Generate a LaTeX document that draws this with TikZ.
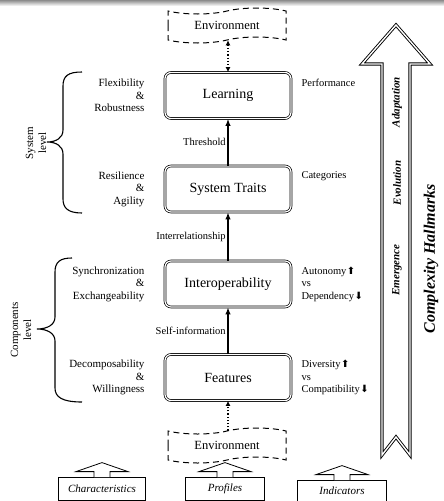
\documentclass[tikz,border=0pt]{standalone}
\usepackage{fontspec}
\setmainfont{Liberation Serif}
\newfontfamily\symfont{DejaVu Sans}
\usetikzlibrary{positioning,shapes.symbols,arrows.meta}

% small filled arrows behind the indicator words
\newcommand{\upar}{\kern0.5pt{\symfont\fontsize{10}{10}\selectfont ⬆}}
\newcommand{\dnar}{\kern0.5pt{\symfont\fontsize{10}{10}\selectfont ⬇}}

\begin{document}
\begin{tikzpicture}[x=1pt, y=-1pt,
  stage/.style={draw, double, double distance=1.2pt, line width=0.7pt,
    rounded corners=6pt, minimum width=126pt, minimum height=46pt,
    font=\fontsize{14}{16}\selectfont},
  env/.style={tape, draw, dashed, dash pattern=on 6pt off 4pt, line width=1pt,
    minimum width=118pt, minimum height=35pt, tape bend height=6pt,
    font=\fontsize{12.5}{14}\selectfont},
  lefttext/.style={align=right, inner sep=0pt, font=\fontsize{11}{12.5}\selectfont},
  righttext/.style={align=left, inner sep=0pt, anchor=north west,
    font=\fontsize{10.5}{12.5}\selectfont},
  flow/.style={-{Latex[length=7pt,width=5.5pt]}, line width=1.6pt},
  envlink/.style={line width=1.2pt, dotted},
  flowlabel/.style={midway, left, inner sep=1.5pt, font=\fontsize{10.5}{12}\selectfont},
  brace/.style={line width=1.1pt},
  level/.style={rotate=90, align=center, font=\fontsize{11}{13}\selectfont},
  inbox/.style={draw, line width=0.8pt, minimum height=23pt,
    font=\itshape\fontsize{11}{13}\selectfont},
  hallmark/.style={draw, double, double distance=1.4pt, line width=0.9pt, line join=miter},
  mark text/.style={rotate=90, font=\bfseries\itshape\fontsize{11}{13}\selectfont}
]
\useasboundingbox (0,0) rectangle (444,501);
\shade[top color=black!45, bottom color=white] (0,0) rectangle (444,6);

% stages
\node[stage] (learn) at (228,95.5) {Learning};
\node[stage] (traits) at (228,189) {System Traits};
\node[stage] (inter) at (228,284) {Interoperability};
\node[stage] (feat) at (228,377.5) {Features};

% environment
\node[env] (envtop) at (227,25.5) {Environment};
\node[env] (envbot) at (227,445.5) {Environment};

% connectors
\draw[flow] (traits) -- (learn) node[flowlabel] {Threshold};
\draw[flow] (inter) -- (traits) node[flowlabel] {Interrelationship};
\draw[flow] (feat) -- (inter) node[flowlabel] {Self-information};
\draw[envlink, {Latex[length=5pt,width=5pt]}-{Latex[length=5pt,width=5pt]}]
  (envtop.south -| learn.north) -- (learn.north);
\draw[envlink, -{Latex[length=5pt,width=5pt]}] (envbot.north -| feat.south) -- (feat.south);

% left side
\node[lefttext, left=20pt of learn] (flex) {Flexibility\\\&\\Robustness};
\node[lefttext, left=20pt of traits] (resil) {Resilience\\\&\\Agility};
\node[lefttext, left=20pt of inter] (sync) {Synchronization\\\&\\Exchangeability};
\node[lefttext, left=20pt of feat] (decomp) {Decomposability\\\&\\Willingness};

% right side
\node[righttext] (perf) at ([xshift=10pt]flex.north -| learn.east) {Performance};
\node[righttext] (cat) at ([xshift=10pt]resil.north -| traits.east) {Categories};
\node[righttext] (auto) at ([xshift=10pt]sync.north -| inter.east) {Autonomy\upar\\vs\\Dependency\dnar};
\node[righttext] (div) at ([xshift=10pt]decomp.north -| feat.east) {Diversity\upar\\vs\\Compatibility\dnar};

% braces
\draw[brace] (82,72) .. controls (68,72) and (63,76) .. (63,86) -- (63,130)
  .. controls (63,138) and (56,142) .. (47,142) .. controls (56,142) and (63,146) .. (63,154)
  -- (63,199) .. controls (63,208) and (68,213) .. (82,213);
\draw[brace] (72,258) .. controls (60,258) and (55,262) .. (55,272) -- (55,317)
  .. controls (55,325) and (47,329) .. (37,329) .. controls (47,329) and (55,333) .. (55,341)
  -- (55,388) .. controls (55,397) and (62,402) .. (82,402);
\node[level] (syslevel) at (36,143) {System\\level};
\node[level] (complevel) at (21,330) {Components\\level};

% bottom boxes
\node[inbox, minimum width=87pt] (chars) at (102,488.5) {Characteristics};
\node[inbox, minimum width=79pt] (profs) at (225,488.5) {Profiles};
\node[inbox, minimum width=89pt, minimum height=21pt] (inds) at (342,490.5) {Indicators};
\foreach \b in {chars,profs,inds}
  \draw[fill=white, line width=0.8pt] ([xshift=-8pt,yshift=-0.6pt]\b.north)
    -- ([xshift=-8pt,yshift=5pt]\b.north) -- ([xshift=-26pt,yshift=5pt]\b.north)
    -- ([yshift=14pt]\b.north) -- ([xshift=26pt,yshift=5pt]\b.north)
    -- ([xshift=8pt,yshift=5pt]\b.north) -- ([xshift=8pt,yshift=-0.6pt]\b.north);

% complexity hallmarks
\draw[hallmark] (396,25) -- (430,64) -- (410,64) -- (410,455) -- (396,437)
  -- (382,455) -- (382,64) -- (362,64) -- cycle;
\node[mark text] (emerg) at (397,270) {Emergence};
\node[mark text] (evol) at (397,183) {Evolution};
\node[mark text] (adapt) at (397,102) {Adaptation};
\node[mark text, font=\bfseries\itshape\fontsize{16}{18}\selectfont] (hall) at (431,259) {Complexity Hallmarks};
\end{tikzpicture}
\end{document}
